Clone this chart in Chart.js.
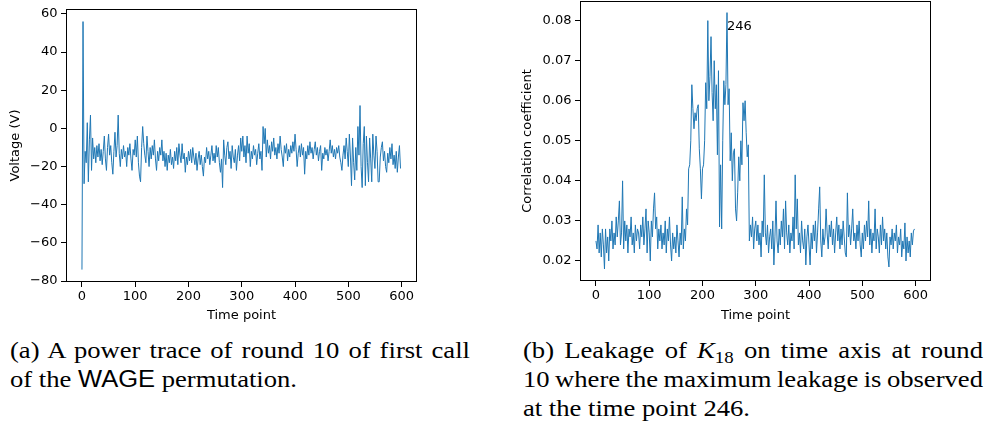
<!DOCTYPE html>
<html>
<head>
<meta charset="utf-8">
<script src="https://cdn.jsdelivr.net/npm/chart.js@4.4.0/dist/chart.umd.min.js"></script>
<style>
  body { margin: 0; background: #fff; width: 988px; height: 425px; position: relative; overflow: hidden; }
  canvas { position: absolute; top: 0; }
  #traceChart { left: 0; }
  #leakChart { left: 500px; }
  .cap { position: absolute; font-family: "Liberation Serif", "DejaVu Serif", serif; font-size: 24px; line-height: 24px;
         white-space: nowrap; color: #000; transform-origin: 0 0; }
  .sans { font-family: "Liberation Sans", "DejaVu Sans", sans-serif; font-size: 23px; }
  .cap sub { font-size: 17px; vertical-align: -5px; line-height: 0; }
</style>
</head>
<body>
<canvas id="traceChart" width="430" height="325"></canvas>
<canvas id="leakChart" width="445" height="325"></canvas>

<div class="cap just" data-w="460" style="left:10px; top:338px">(a) A power trace of round 10 of first call</div>
<div class="cap" data-w="282" style="left:10px; top:367px">of the <span class="sans">WAGE</span> permutation.</div>
<div class="cap just" data-w="460" style="left:523px; top:338px">(b) Leakage of <i>K</i><sub>18</sub> on time axis at round</div>
<div class="cap just" data-w="460" style="left:523px; top:367px">10 where the maximum leakage is observed</div>
<div class="cap" data-w="231" style="left:523px; top:396px">at the time point 246.</div>

<script>
// sampled every 2 time points, 0..598
const TIME_STEP = 2;

// (a) power trace, volts
const voltage = [
  -74, 56, -29, -12, -18, 3, -28, -6, 7, -22,
  -5, -16, -10, -18, -9, -15, -8, -17, -11, -19,
  -12, -4, -16, -22, -10, -3, -14, -9, -18, -24,
  -12, -2, -15, -9, 7, -13, -20, -11, -16, -9,
  -15, -12, -20, -10, -14, -8, -16, -22, -11, -14,
  -6, -15, -4, -18, -25, -28, -10, 1, -8, -14,
  -18, -4, -12, -20, -10, -16, -9, -14, -6, -16,
  -22, -12, -17, -10, -14, -6, -17, -12, -20, -13,
  -22, -14, -18, -11, -19, -15, -21, -12, -17, -10,
  -19, -8, -14, -18, -8, -16, -13, -23, -15, -19,
  -12, -17, -11, -18, -10, -15, -19, -13, -22, -16,
  -12, -19, -14, -20, -25, -15, -18, -10, -16, -12,
  -19, -14, -9, -17, -13, -18, -9, -15, -10, -18,
  -23, -16, -31, -6, -14, -19, -10, -7, -16, -12,
  -21, -9, -15, -18, -11, -22, -14, -9, -17, -5,
  -12, -4, -15, -9, -18, -4, -13, -8, -20, -12,
  -16, -9, -14, -11, -19, -13, -8, -16, -12, -22,
  1, -8, 0, -15, -6, -13, -9, -16, -7, -12,
  -5, -14, -10, -16, -8, -13, -4, -11, -15, -20,
  -9, -13, -8, -17, -11, -15, -9, -13, -7, -12,
  -3, -11, -20, -13, -9, -15, -8, -14, -10, -24,
  -12, -16, -9, -14, -7, -13, -10, -16, -11, -7,
  -14, -10, -17, -12, -9, -22, -13, -16, -10, -14,
  -11, -17, -12, -6, -13, -9, -15, -11, -16, -10,
  -13, -9, -15, -18, -22, -14, -9, -16, -5, -12,
  -20, -3, -15, -30, -5, -18, -27, -10, -22, 1,
  -14, 12, -20, -31, -8, 1, -30, -4, -18, -28,
  -5, -16, -28, -3, -14, -21, -4, -12, -28, -28,
  -15, -10, -7, -17, -12, -20, -23, -13, -18, -10,
  -16, -8, -19, -14, -21, -12, -23, -15, -9, -21
];

// (b) correlation coefficient of K18
const correlation = [
  .025, .023, .029, .022, .027, .021, .028, .024, .018, .028,
  .022, .026, .020, .028, .025, .030, .023, .027, .024, .031,
  .026, .030, .035, .024, .027, .040, .023, .030, .025, .029,
  .022, .028, .026, .031, .024, .027, .022, .029, .025, .028,
  .027, .023, .029, .026, .031, .024, .028, .033, .022, .030,
  .027, .020, .030, .026, .033, .037, .028, .031, .023, .028,
  .025, .029, .023, .027, .024, .030, .022, .028, .025, .031,
  .024, .020, .027, .023, .026, .022, .029, .025, .021, .027,
  .024, .036, .023, .028, .025, .033, .029, .043, .044, .050,
  .064, .058, .053, .057, .055, .058, .059, .048, .043, .0355,
  .043, .044, .050, .0645, .058, .080, .060, .066, .076, .062,
  .055, .070, .058, .064, .0465, .0675, .0285, .044, .028, .050,
  .065, .059, .064, .082, .059, .063, .045, .052, .040, .047,
  .048, .033, .030, .037, .046, .040, .050, .044, .0595, .055,
  .060, .052, .046, .049, .025, .029, .026, .031, .023, .028,
  .030, .025, .029, .024, .027, .021, .030, .026, .0415, .027,
  .024, .029, .022, .026, .028, .023, .030, .019, .026, .035,
  .025, .022, .028, .024, .030, .026, .033, .023, .035, .027,
  .024, .029, .022, .027, .025, .031, .023, .0415, .028, .0355,
  .024, .027, .022, .030, .025, .023, .028, .019, .026, .029,
  .024, .019, .027, .023, .029, .025, .030, .022, .027, .033,
  .0385, .025, .021, .028, .024, .026, .033, .027, .023, .029,
  .026, .030, .024, .028, .022, .027, .031, .025, .029, .023,
  .028, .024, .030, .026, .022, .021, .037, .026, .029, .024,
  .028, .033, .025, .027, .023, .029, .025, .030, .024, .021,
  .027, .023, .029, .025, .030, .026, .035, .024, .028, .022,
  .027, .025, .033, .023, .028, .026, .022, .029, .024, .031,
  .025, .028, .023, .027, .021, .0185, .026, .024, .028, .023,
  .027, .025, .029, .022, .026, .024, .028, .021, .025, .023,
  .0295, .020, .026, .022, .025, .021, .027, .024, .0275, .028
];

const timePoints = voltage.map((_, i) => i * TIME_STEP);

const xTicks = [0, 100, 200, 300, 400, 500, 600];
const voltTicks = [-80, -60, -40, -20, 0, 20, 40, 60];
const corrTicks = [0.02, 0.03, 0.04, 0.05, 0.06, 0.07, 0.08];

// label put next to the peak
const peakLabel = '246';
const peakLabelAt = { x: 246, y: 0.0777 };

const BLUE = '#1f77b4';
const tickFont = { family: "'DejaVu Sans', sans-serif", size: 13 };

// matplotlib style box around the plot
const framePlugin = {
  id: 'frame',
  afterDraw(chart) {
    const { ctx, chartArea: a } = chart;
    ctx.save();
    ctx.strokeStyle = '#000';
    ctx.lineWidth = 1;
    ctx.strokeRect(a.left + 0.5, a.top + 0.5, a.right - a.left - 1, a.bottom - a.top - 1);
    ctx.restore();
  }
};

const peakPlugin = {
  id: 'peakText',
  afterDatasetsDraw(chart) {
    const { ctx, scales } = chart;
    ctx.save();
    ctx.font = "13px 'DejaVu Sans', sans-serif";
    ctx.fillStyle = '#000';
    ctx.textAlign = 'left';
    ctx.textBaseline = 'alphabetic';
    ctx.fillText(peakLabel, scales.x.getPixelForValue(peakLabelAt.x), scales.y.getPixelForValue(peakLabelAt.y));
    ctx.restore();
  }
};

function axisGrid() {
  return { drawOnChartArea: false, drawTicks: true, tickLength: 5, tickColor: '#000', color: '#000' };
}

function buildChart(id, values, cfg) {
  const points = values.map((v, i) => ({ x: timePoints[i], y: v }));
  return new Chart(document.getElementById(id), {
    type: 'line',
    data: {
      datasets: [{
        data: points,
        borderColor: BLUE,
        borderWidth: 1,
        pointRadius: 0,
        tension: 0,
        fill: false
      }]
    },
    options: {
      responsive: false,
      animation: false,
      layout: { padding: { top: cfg.padTop, right: cfg.padRight, left: 0, bottom: 0 } },
      plugins: { legend: { display: false }, tooltip: { enabled: false } },
      scales: {
        x: {
          type: 'linear',
          min: -29.95,
          max: 628.95,
          afterBuildTicks: s => { s.ticks = xTicks.map(v => ({ value: v })); },
          afterFit: s => { s.height = cfg.xHeight; s.paddingLeft = 0; s.paddingRight = 0; },
          grid: axisGrid(),
          border: { display: false },
          ticks: { color: '#000', font: tickFont, padding: 2, maxRotation: 0, autoSkip: false, callback: v => String(v) },
          title: { display: true, text: 'Time point', color: '#000', font: tickFont, padding: { top: 0, bottom: 2 } }
        },
        y: {
          type: 'linear',
          min: cfg.yMin,
          max: cfg.yMax,
          afterBuildTicks: s => { s.ticks = cfg.yTicks.map(v => ({ value: v })); },
          afterFit: s => { s.width = cfg.yWidth; s.paddingTop = 0; s.paddingBottom = 0; },
          grid: axisGrid(),
          border: { display: false },
          ticks: { color: '#000', font: tickFont, padding: 3.5, autoSkip: false, callback: cfg.yFormat },
          title: { display: true, text: cfg.yTitle, color: '#000', font: tickFont, padding: { top: cfg.yTitlePad, bottom: 0 } }
        }
      }
    },
    plugins: cfg.plugins
  });
}

buildChart('traceChart', voltage, {
  padTop: 9, padRight: 13, xHeight: 43, yWidth: 66,
  yMin: -80.5, yMax: 62.6, yTicks: voltTicks,
  yFormat: v => (v < 0 ? '\u2212' + Math.abs(v) : String(v)),
  yTitle: 'Voltage (V)', yTitlePad: 8,
  plugins: [framePlugin]
});

buildChart('leakChart', correlation, {
  padTop: 1, padRight: 14, xHeight: 44, yWidth: 80,
  yMin: 0.015, yMax: 0.0849, yTicks: corrTicks,
  yFormat: v => v.toFixed(2),
  yTitle: 'Correlation coefficient', yTitlePad: 20,
  plugins: [framePlugin, peakPlugin]
});

// captions: widen the serif a bit (closer to Computer Modern), then justify full lines with word spacing
const caps = Array.from(document.querySelectorAll('.cap'));
const lastLines = caps.filter(el => !el.classList.contains('just'));
let scale = 0;
lastLines.forEach(el => { scale += el.dataset.w / el.getBoundingClientRect().width; });
scale /= lastLines.length;
caps.forEach(el => {
  el.style.transform = 'scaleX(' + scale + ')';
  if (el.classList.contains('just')) {
    const natural = el.getBoundingClientRect().width / scale;
    const spaces = (el.textContent.match(/ /g) || []).length;
    el.style.wordSpacing = ((el.dataset.w / scale - natural) / spaces) + 'px';
  }
});
</script>
</body>
</html>
